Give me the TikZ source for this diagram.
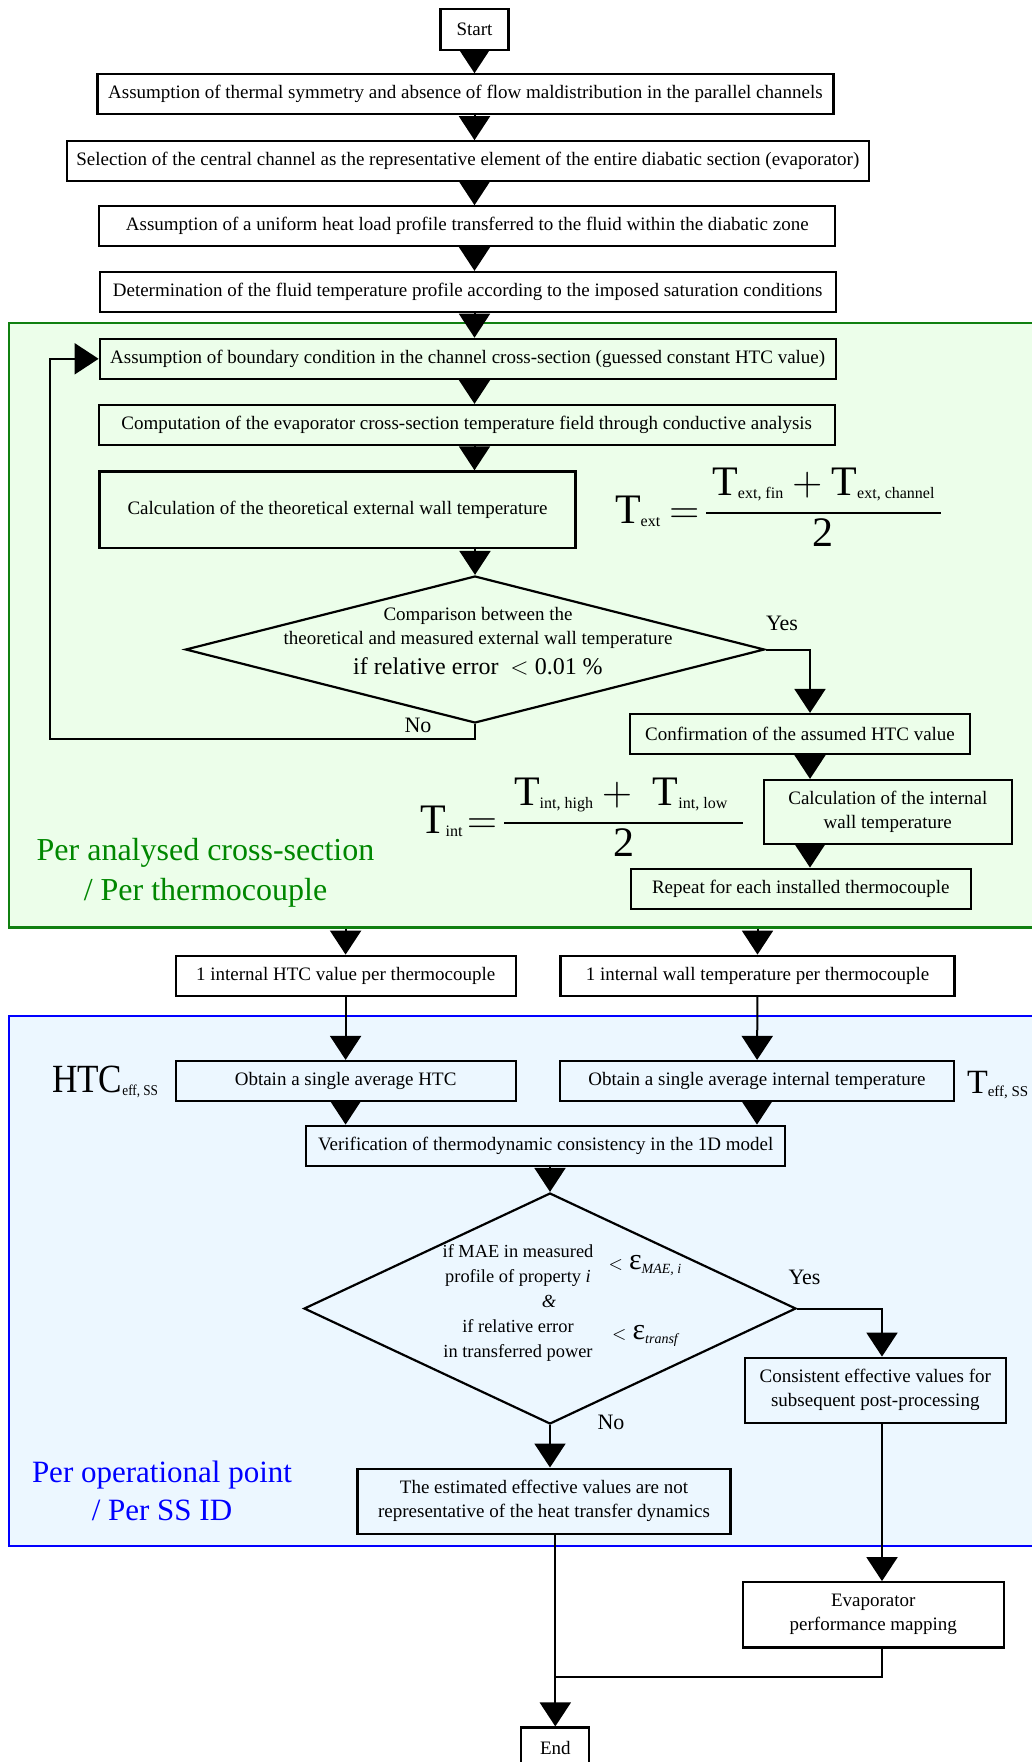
\documentclass[tikz,border=0pt]{standalone}
\usepackage{fontspec}
\setmainfont{Liberation Serif}
\usepackage{amsmath}
\usepackage{graphicx}
\usetikzlibrary{arrows.meta,shapes.geometric,positioning}
\definecolor{zonegreen}{RGB}{236,254,234}
\definecolor{zonegreenline}{RGB}{16,128,16}
\definecolor{zoneblue}{RGB}{236,247,255}
\definecolor{zoneblueline}{RGB}{0,0,255}
\definecolor{labelgreen}{RGB}{0,135,0}
\newcommand{\boxfont}{\fontsize{9.5}{12}\selectfont}
\newcommand{\bigT}[2][21]{\mbox{\fontsize{#1}{#1}\selectfont T\raisebox{-1.5pt}{\fontsize{8}{8}\selectfont #2}}}
\tikzset{%
  >={Triangle[length=12pt,width=15.5pt]},
  % Specifications for style of nodes:
          base/.style = {rectangle, draw=black, line width=1.1pt, inner sep=0pt,
                         text centered, align=center, font=\boxfont},
      terminal/.style = {base, minimum width=34pt, minimum height=20.5pt},
      mainstep/.style = {base, minimum width=368pt, minimum height=20pt},
      sidestep/.style = {base, minimum width=170pt, minimum height=20pt},
       twoline/.style = {base, minimum width=130.7pt, minimum height=32.6pt},
      decision/.style = {diamond, draw=black, line width=1.1pt, inner sep=0pt},
          zone/.style = {rectangle, line width=1.2pt, inner sep=0pt},
         yesno/.style = {font=\fontsize{11}{13}\selectfont},
     zonelabel/.style = {align=center, font=\fontsize{16}{20}\selectfont}
}

\begin{document}
\begin{tikzpicture}[x=0.5pt, y=-0.5pt, line width=1pt]
  \useasboundingbox (0,0) rectangle (1032,1762);

  % shaded zones
  \node (zoneA) [zone, draw=zonegreenline, fill=zonegreen, minimum width=512.4pt, minimum height=302.3pt] at (521.6,625) {};
  \node (zoneB) [zone, draw=zoneblueline, fill=zoneblue, minimum width=512.4pt, minimum height=265.2pt] at (521.6,1280.9) {};

  \node (start) [terminal] at (474.5,29.5) {Start};
  \node (sym)   [mainstep] at (465.4,94.3) {Assumption of thermal symmetry and absence of flow maldistribution in the parallel channels};
  \node (chan)  [mainstep, minimum width=401pt] at (467.8,161.3) {Selection of the central channel as the representative element of the entire diabatic section (evaporator)};
  \node (load)  [mainstep] at (467.3,226.3) {Assumption of a uniform heat load profile transferred to the fluid within the diabatic zone};
  \node (fluid) [mainstep] at (467.7,292) {Determination of the fluid temperature profile according to the imposed saturation conditions};

  \node (bc)    [mainstep] at (467.7,358.8) {Assumption of boundary condition in the channel cross-section (guessed constant HTC value)};
  \node (cond)  [mainstep] at (466.7,425) {Computation of the evaporator cross-section temperature field through conductive analysis};
  \node (extwall) [base, minimum width=238pt, minimum height=38.3pt] at (337.5,509.7) {Calculation of the theoretical external wall temperature};
  \node (textf) [anchor=west, inner sep=0pt, font=\fontsize{21}{24}\selectfont] at (614,511)
        {$\bigT{ext}\mskip-1mu=\!\dfrac{\hspace{3pt}\bigT{ext, fin} + \bigT{ext, channel}\hspace{3pt}}{\raisebox{4pt}{\mbox{2}}}$};

  \node (dec1)  [decision, minimum width=289.5pt, minimum height=73.5pt] at (475,649.5) {};
  \node (dec1txt) [font=\boxfont, align=center] at (478,641)
        {Comparison between the\\theoretical and measured external wall temperature\\[3pt]
         {\fontsize{12}{14}\selectfont if relative error\ \ $<$ 0.01 \%}};
  \node (yes1)  [yesno] at (782,623) {Yes};
  \node (no1)   [yesno] at (418,725) {No};

  \node (conf)  [sidestep] at (800,734) {Confirmation of the assumed HTC value};
  \node (tint)  [base, minimum width=124pt, minimum height=31.8pt] at (887.8,811.8) {Calculation of the internal\\wall temperature};
  \node (rep)   [sidestep] at (800.8,888.7) {Repeat for each installed thermocouple};
  \node (tintf) [anchor=west, inner sep=0pt, font=\fontsize{21}{24}\selectfont] at (419,821)
        {$\bigT{int}\!=\!\dfrac{\hspace{5pt}\bigT{int, high} + \;\bigT{int, low}\hspace{8pt}}{\raisebox{4pt}{\mbox{2}}}$};
  \node (labA)  [zonelabel, text=labelgreen] at (205.5,873) {Per analysed cross-section\\/ Per thermocouple};

  \node (htc1)  [sidestep] at (345.6,975.7) {1 internal HTC value per thermocouple};
  \node (tw1)   [sidestep, minimum width=197pt] at (757.5,975.7) {1 internal wall temperature per thermocouple};
  \node (htcav) [sidestep] at (345.6,1081) {Obtain a single average HTC};
  \node (twav)  [sidestep, minimum width=197pt] at (757,1081) {Obtain a single average internal temperature};
  \node (htcsym)[anchor=base west, inner sep=0pt] at (51,1092)
        {\scalebox{0.88}[1]{{\fontsize{20}{20}\selectfont HTC}\raisebox{-1.5pt}{\fontsize{7.5}{8}\selectfont eff, SS}}};
  \node (tsym)  [anchor=base west, inner sep=0pt] at (966,1093)
        {{\fontsize{17}{17}\selectfont T}\raisebox{-1.5pt}{\fontsize{7.5}{8}\selectfont eff, SS}};
  \node (verif) [base, minimum width=239.5pt, minimum height=20pt] at (545.7,1145.7) {Verification of thermodynamic consistency in the 1D model};

  \node (dec2)  [decision, minimum width=246pt, minimum height=115.5pt] at (550,1308.5) {};
  \node (dec2txt) [font=\fontsize{9.2}{12.5}\selectfont, align=center] at (518,1303)
        {if MAE in measured\\profile of property \textit{i}\\\hspace*{31pt}\textit{\&}\\if relative error\\in transferred power};
  \node (epsA)  [inner sep=0pt] at (645,1265)
        {{\boxfont$<$}\hspace{3pt}{\fontsize{15}{15}\selectfont ε}\raisebox{-2pt}{\fontsize{7}{7}\selectfont\itshape MAE, i}};
  \node (epsB)  [inner sep=0pt] at (645,1336)
        {{\boxfont$<$}\hspace{3pt}{\fontsize{15}{15}\selectfont ε}\raisebox{-2pt}{\fontsize{7}{7}\selectfont\itshape transf}};
  \node (yes2)  [yesno] at (804.5,1277.7) {Yes};
  \node (no2)   [yesno] at (611,1422.7) {No};

  \node (cons)  [twoline] at (875.3,1390.3) {Consistent effective values for\\subsequent post-processing};
  \node (notrep)[base, minimum width=186.5pt, minimum height=32.7pt] at (544,1501.3) {The estimated effective values are not\\representative of the heat transfer dynamics};
  \node (labB)  [zonelabel, text=zoneblueline, font=\fontsize{15.5}{19}\selectfont] at (162,1491) {Per operational point\\/ Per SS ID};
  \node (map)   [twoline] at (873.3,1614.8) {Evaporator\\performance mapping};
  \node (end)   [terminal] at (555.3,1748) {End};

  \coordinate (loop) at (50,739);
  \coordinate (colR) at (810,0);
  \coordinate (colS) at (882,0);
  \coordinate (join) at (555.3,1677);

    \draw[->] (start) -- (start |- sym.north);
    \draw[->] (sym.south -| start) -- (chan.north -| start);
    \draw[->] (chan.south -| start) -- (load.north -| start);
    \draw[->] (load.south -| start) -- (fluid.north -| start);
    \draw[->] (fluid.south -| start) -- (bc.north -| start);
    \draw[->] (bc.south -| start) -- (cond.north -| start);
    \draw[->] (cond.south -| start) -- (extwall.north -| start);
    \draw[->] (extwall.south -| dec1) -- (dec1.north);
    \draw[->] (dec1.south) |- (loop) |- (bc.west);
    \draw[->] (dec1.east) -| (colR |- conf.north);
    \draw[->] (conf.south -| colR) -- (colR |- tint.north);
    \draw[->] (tint.south -| colR) -- (colR |- rep.north);
    \draw[->] (zoneA.south -| htc1) -- (htc1.north);
    \draw[->] (zoneA.south -| tw1) -- (tw1.north);
    \draw[->] (htc1) -- (htcav);
    \draw[->] (tw1) -- (twav);
    \draw[->] (htcav.south) -- (htcav.south |- verif.north);
    \draw[->] (twav.south) -- (twav.south |- verif.north);
    \draw[->] (verif.south -| dec2) -- (dec2.north);
    \draw[->] (dec2.east) -| (colS |- cons.north);
    \draw[->] (dec2.south) -- (dec2.south |- notrep.north);
    \draw[->] (cons.south -| colS) -- (colS |- map.north);
    \draw     (map.south -| colS) |- (join);
    \draw[->] (notrep.south -| end) -- (end.north);
\end{tikzpicture}
\end{document}
